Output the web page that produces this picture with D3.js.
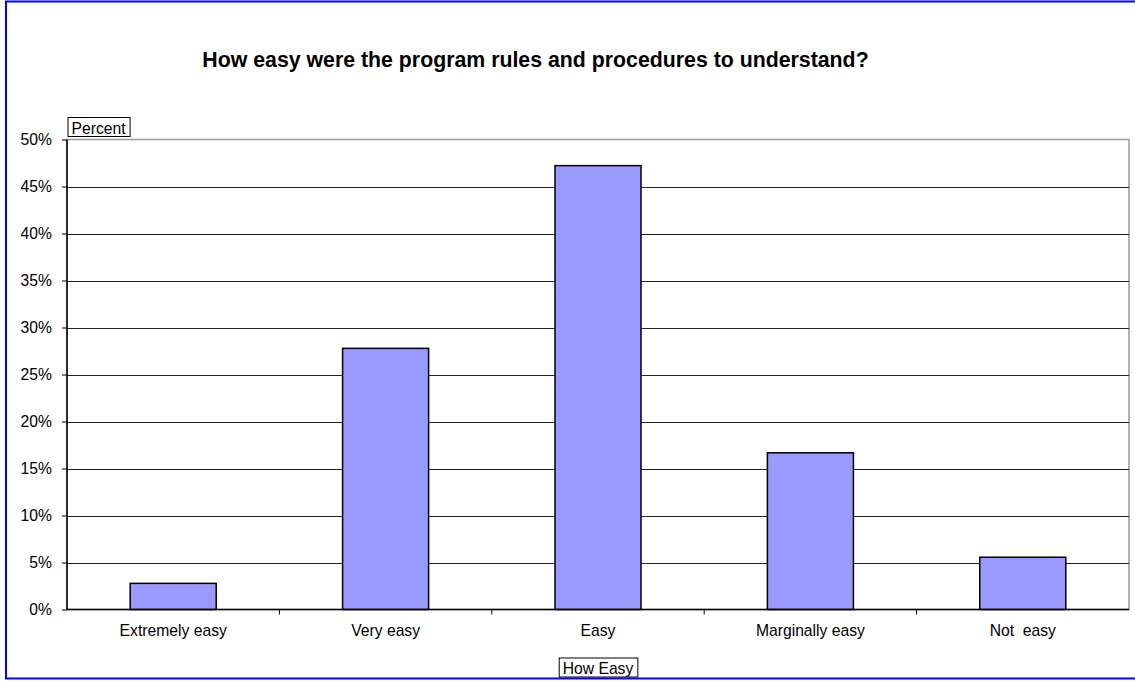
<!DOCTYPE html>
<html>
<head>
<meta charset="utf-8">
<script src="https://cdn.jsdelivr.net/npm/d3@7"></script>
<style>
  html, body { margin: 0; padding: 0; background: #fff; }
  svg { display: block; font-family: Arial, "Liberation Sans", sans-serif; }
</style>
</head>
<body>
<svg id="chart" width="1135" height="681"></svg>
<script>
// Survey responses: share of respondents per ease rating
const categories = ["Extremely easy", "Very easy", "Easy", "Marginally easy", "Not  easy"];
const values = [0.0278, 0.2778, 0.4722, 0.1667, 0.0556];
const yTicks = [0, 0.05, 0.10, 0.15, 0.20, 0.25, 0.30, 0.35, 0.40, 0.45, 0.50];

const titleText = "How easy were the program rules and procedures to understand?";
const yTitle = "Percent";
const xTitle = "How Easy";

const FONT = "Arial, 'Liberation Sans', sans-serif";
const LABEL_SIZE = 15.7;

const svg = d3.select("#chart");

// outer chart frame
svg.append("rect")
  .attr("x", 6).attr("y", 1.5)
  .attr("width", 1135).attr("height", 677)
  .attr("fill", "none").attr("stroke", "#0000ff").attr("stroke-width", 2);

const plot = { left: 67, right: 1129, top: 139.5, bottom: 609.5 };

const x = d3.scaleBand().domain(categories).range([plot.left, plot.right]).paddingInner(0).paddingOuter(0);
const y = d3.scaleLinear().domain([0, 0.5]).range([plot.bottom, plot.top]);

// title
svg.append("text")
  .attr("x", 535.5).attr("y", 66.5)
  .attr("text-anchor", "middle")
  .attr("font-size", 21.3).attr("font-weight", "bold").attr("fill", "#000")
  .text(titleText);

// plot area border
svg.append("rect")
  .attr("x", plot.left).attr("y", plot.top)
  .attr("width", plot.right - plot.left).attr("height", plot.bottom - plot.top)
  .attr("fill", "none").attr("stroke", "#999").attr("stroke-width", 1.5);

// gridlines
svg.append("g")
  .selectAll("line")
  .data(yTicks.filter(t => t > 0 && t < 0.5))
  .join("line")
  .attr("x1", plot.left).attr("x2", plot.right)
  .attr("y1", d => Math.round(y(d)) + 0.5).attr("y2", d => Math.round(y(d)) + 0.5)
  .attr("stroke", "#222").attr("stroke-width", 1);

// bars
svg.append("g")
  .selectAll("rect")
  .data(values)
  .join("rect")
  .attr("x", (d, i) => x(categories[i]) + x.bandwidth() * 0.2975)
  .attr("width", x.bandwidth() * 0.405)
  .attr("y", d => y(d))
  .attr("height", d => y(0) - y(d))
  .attr("fill", "#9999ff")
  .attr("stroke", "#000").attr("stroke-width", 1.5);

// y axis
const yAxis = d3.axisLeft(y)
  .tickValues(yTicks)
  .tickFormat(d3.format(".0%"))
  .tickSize(5)
  .tickPadding(10);
const gy = svg.append("g").attr("transform", `translate(${plot.left},0)`).call(yAxis);
gy.select(".domain").attr("stroke", "#000").attr("stroke-width", 1.5).attr("d", `M0,${plot.top}V${plot.bottom}`);
gy.selectAll(".tick line").attr("stroke", "#000");
gy.selectAll(".tick text").attr("font-size", LABEL_SIZE).attr("fill", "#000").attr("font-family", FONT);

// x axis
const xAxis = d3.axisBottom(x).tickSize(0).tickPadding(15);
const gx = svg.append("g").attr("transform", `translate(0,${plot.bottom})`).call(xAxis);
gx.select(".domain").attr("stroke", "#000").attr("stroke-width", 1.5).attr("d", `M${plot.left},0H${plot.right}`);
gx.selectAll(".tick text").attr("font-size", LABEL_SIZE).attr("fill", "#000").attr("font-family", FONT).style("white-space", "pre");
// category boundary ticks
svg.append("g")
  .selectAll("line")
  .data(categories.slice(1))
  .join("line")
  .attr("x1", d => x(d)).attr("x2", d => x(d))
  .attr("y1", plot.bottom).attr("y2", plot.bottom + 5)
  .attr("stroke", "#000").attr("stroke-width", 1);

// boxed axis titles
function boxedLabel(cx, cy, text, anchorLeft) {
  const g = svg.append("g");
  const t = g.append("text")
    .attr("font-size", LABEL_SIZE).attr("fill", "#000")
    .attr("dominant-baseline", "central")
    .text(text);
  const w = t.node().getComputedTextLength();
  const left = anchorLeft ? cx : cx - (w + 8) / 2;
  t.attr("x", left + 4).attr("y", cy + 1);
  g.insert("rect", "text")
    .attr("x", left + 0.5).attr("y", cy - 9.5)
    .attr("width", w + 8).attr("height", 19)
    .attr("fill", "#fff").attr("stroke", "#000").attr("stroke-width", 1);
}
boxedLabel(67.5, 127, yTitle, true);
boxedLabel(598, 667.5, xTitle, false);
</script>
</body>
</html>
